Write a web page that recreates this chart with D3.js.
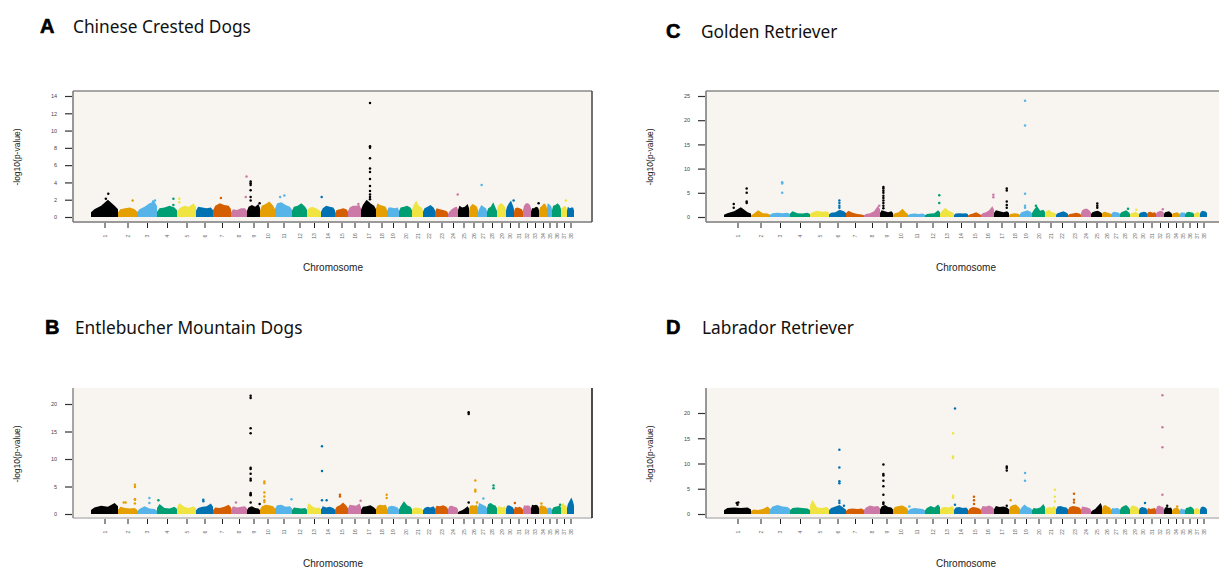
<!DOCTYPE html>
<html>
<head>
<meta charset="utf-8">
<script src="https://cdn.jsdelivr.net/npm/d3@7"></script>
<style>
body { margin: 0; background: #fff; }
</style>
</head>
<body>
<svg id="fig" width="1219" height="570"></svg>
<script>
// chromosomes and their relative widths on the x axis
var chromosomes = d3.range(1, 39);
var chromSpan = [27,19,20,20,19,17,18,16,13,15,17,15,14,14,13,13,15,11,12,13,11,12,13,10,11,9,9,10,9,8,9,8,8,8,5,9,6,7];
var palette = ["#000000","#E69F00","#56B4E9","#009E73","#F0E442","#0072B2","#D55E00","#CC79A7"];

// top of the dense SNP cloud per chromosome (-log10 p), 4 steps each
var bandA = [[0.9,1.3,2.0,1.3],[0.9,1.0,1.1,0.9],[0.9,1.2,1.6,1.8],[1.0,1.1,1.3,1.1],[1.0,1.3,1.2,1.6],
  [1.2,1.1,1.0,1.1],[1.3,1.6,1.4,1.3],[0.9,0.8,1.0,1.0],[1.2,1.4,1.2,1.5],[1.3,1.5,1.8,1.3],
  [1.6,1.7,1.4,1.2],[1.2,1.3,1.6,1.2],[1.0,1.2,1.0,0.8],[1.0,1.3,1.2,1.1],[0.8,0.9,1.0,0.9],
  [1.1,1.3,1.3,1.4],[1.4,2.0,1.6,1.3],[1.6,1.4,1.3,1.2],[1.1,1.1,1.0,1.1],[1.1,1.2,1.3,1.1],
  [1.3,1.9,1.3,1.1],[1.0,1.2,1.4,1.1],[1.0,0.9,0.8,0.7],[0.6,0.9,1.1,1.2],[1.3,1.1,1.2,1.5],
  [1.2,1.5,1.4,1.2],[0.9,1.4,1.2,1.0],[1.0,1.2,1.7,1.0],[1.3,1.6,1.5,1.2],[1.2,1.6,1.9,1.3],
  [1.0,1.1,1.0,0.9],[1.3,1.6,1.6,1.4],[1.0,1.0,1.2,1.1],[1.1,1.3,1.6,1.4],[1.6,1.5,1.4,1.2],
  [1.3,1.4,1.6,1.3],[1.0,1.2,1.3,1.1],[1.2,1.0,1.1,1.1]];
var bandB = [[1.2,1.5,1.3,2.0],[1.3,1.1,1.0,1.1],[0.9,1.4,1.0,0.9],[1.8,1.1,1.0,1.3],[2.0,1.3,1.1,1.4],
  [1.1,1.3,1.4,1.9],[1.2,1.1,1.3,1.7],[1.4,1.2,1.3,1.4],[1.2,1.4,1.1,1.0],[1.4,1.7,1.6,1.4],
  [1.6,1.7,1.3,1.4],[1.2,1.1,1.0,1.1],[2.0,1.4,1.1,1.2],[1.4,1.2,1.3,1.1],[1.3,1.6,2.1,1.5],
  [1.7,1.6,1.5,1.9],[1.3,1.4,1.6,1.2],[1.5,1.7,1.6,1.7],[1.3,1.5,1.4,1.2],[1.4,2.3,1.6,1.3],
  [1.1,1.2,1.1,1.0],[1.1,1.3,1.2,1.4],[1.5,1.4,1.6,1.3],[1.4,1.5,1.3,1.2],[0.5,0.7,1.0,1.4],
  [1.5,1.6,1.5,1.7],[2.0,1.8,1.6,1.4],[1.8,2.0,1.7,1.5],[1.4,1.3,1.2,1.4],[1.5,1.6,1.4,1.2],
  [1.3,1.2,1.3,1.1],[1.6,1.5,1.6,1.4],[1.7,1.6,1.7,1.5],[1.5,1.6,1.4,1.3],[1.2,1.1,1.2,1.0],
  [1.2,1.3,1.4,1.6],[1.8,2.0,1.6,1.5],[1.8,2.4,3.0,2.2]];
var bandC = [[0.8,1.2,2.0,1.0],[0.6,1.4,0.8,0.7],[0.8,0.9,0.8,0.9],[1.2,0.8,0.7,0.9],[1.0,1.3,1.1,1.2],
  [0.9,1.0,1.5,1.2],[1.3,0.9,0.6,0.5],[0.6,0.8,1.2,2.3],[1.4,1.2,1.0,1.2],[0.8,1.0,1.7,0.9],
  [0.6,0.7,0.6,0.7],[0.6,0.7,0.8,1.4],[1.2,1.9,1.3,1.0],[0.7,0.8,0.7,0.8],[0.5,0.7,1.0,0.6],
  [0.8,1.0,1.4,2.2],[1.4,1.2,1.0,1.2],[0.6,0.7,0.8,0.6],[1.0,1.2,1.4,1.1],[1.4,2.3,1.3,1.5],
  [1.2,1.5,1.0,0.9],[0.8,1.0,1.2,0.9],[0.6,0.7,0.9,0.7],[1.4,1.7,1.7,1.3],[1.0,1.2,1.3,1.0],
  [1.0,1.1,0.9,0.8],[0.9,1.1,1.0,0.9],[1.0,1.2,1.4,1.0],[0.8,0.9,1.1,0.8],[0.9,1.0,1.1,1.0],
  [1.0,1.1,0.9,1.0],[1.0,1.2,1.3,1.1],[1.0,1.1,1.2,0.9],[0.8,0.9,1.0,0.8],[0.9,1.0,0.9,1.0],
  [0.9,1.1,1.0,0.9],[0.8,0.9,1.1,0.9],[1.1,1.3,1.2,1.1]];
var bandD = [[1.2,1.3,1.2,1.3],[0.9,0.8,1.0,1.5],[1.5,1.8,1.5,1.4],[1.2,1.3,1.2,1.1],[2.8,1.3,1.2,1.4],
  [1.2,1.5,1.8,1.2],[1.0,1.1,1.0,1.1],[1.3,1.7,1.5,1.6],[1.5,1.8,1.4,1.3],[1.4,1.6,1.7,1.3],
  [1.0,1.2,1.1,1.0],[1.2,1.6,1.3,1.9],[1.3,1.4,1.3,1.6],[1.3,1.4,1.2,1.3],[1.1,1.4,1.3,1.1],
  [1.6,1.5,1.7,1.4],[1.6,1.4,1.5,1.3],[1.5,1.8,1.9,1.4],[1.3,1.9,1.4,1.2],[1.2,1.1,1.3,2.0],
  [1.2,1.4,1.3,1.6],[1.5,1.6,1.4,1.3],[1.4,1.6,1.5,1.3],[1.5,1.4,1.3,1.1],[0.7,1.0,1.6,2.2],
  [1.6,1.8,1.5,1.3],[1.2,1.1,1.2,1.1],[1.3,1.6,1.8,1.3],[1.6,1.7,1.5,1.3],[1.2,1.4,1.3,1.2],
  [1.2,1.0,1.1,1.2],[1.5,1.7,1.5,1.4],[1.3,1.4,1.2,1.3],[1.0,1.2,1.3,1.0],[1.0,1.1,0.9,1.0],
  [1.2,1.3,1.5,1.2],[1.0,1.2,1.1,1.0],[1.3,1.5,1.4,1.2]];

// isolated SNPs above the cloud: [chromosome, relative position, -log10 p]
var peaksA = [[1,0.64,2.7],[1,0.55,2.1],[2,0.77,1.9],[3,0.8,1.8],[3,0.9,1.9],[4,0.82,2.1],[4,0.82,1.4],
  [5,0.12,2.1],[5,0.12,1.7],[7,0.44,2.2],[8,0.97,4.7],[8,0.92,2.3],
  [9,0.28,4.1],[9,0.28,3.9],[9,0.28,3.7],[9,0.28,3.1],[9,0.28,2.3],[9,0.28,1.9],[9,0.97,1.6],
  [11,0.3,2.3],[11,0.55,2.5],[14,0.05,2.3],[16,0.8,1.5],
  [17,0.6,13.2],[17,0.6,8.2],[17,0.6,8.0],[17,0.6,6.8],[17,0.6,5.6],[17,0.6,5.2],[17,0.6,4.4],
  [17,0.6,3.6],[17,0.6,3.0],[17,0.6,2.6],[17,0.6,2.3],[17,0.6,2.05],
  [24,0.97,2.6],[27,0.4,3.7],[30,0.95,1.9],[33,0.95,1.6],[37,0.8,1.9]];
var peaksB = [[2,0.3,2.1],[2,0.4,2.1],[2,0.89,5.3],[2,0.89,4.9],[2,0.89,2.7],[2,0.89,2.6],[2,0.89,1.9],
  [3,0.62,2.9],[3,0.62,2.0],[4,0.07,2.5],[6,0.43,2.6],[6,0.43,2.3],[8,0.31,2.1],
  [9,0.28,21.5],[9,0.28,21.1],[9,0.28,15.6],[9,0.28,14.7],[9,0.28,8.4],[9,0.28,8.2],[9,0.28,7.3],
  [9,0.28,6.4],[9,0.28,6.1],[9,0.28,3.8],[9,0.28,3.6],[9,0.28,3.4],[9,0.28,2.1],[9,0.97,1.8],
  [10,0.29,5.9],[10,0.29,5.6],[10,0.29,3.9],[10,0.29,3.2],[10,0.29,2.5],[10,0.29,2.2],
  [11,0.97,2.7],[14,0.07,12.3],[14,0.07,7.8],[14,0.07,2.5],[14,0.4,2.5],[15,0.38,3.5],[15,0.38,3.2],
  [16,0.97,2.4],[18,0.97,3.5],[18,0.97,2.9],[25,0.97,18.5],[25,0.97,18.2],[25,0.97,2.1],
  [26,0.7,6.1],[26,0.7,4.4],[26,0.7,4.1],[26,0.9,2.1],[27,0.6,2.8],[28,0.65,5.2],[28,0.65,4.7],
  [31,0.1,2.0],[34,0.3,1.9],[36,0.9,1.7]];
var peaksC = [[1,0.36,2.7],[1,0.36,1.9],[1,0.84,5.9],[1,0.84,5.0],[1,0.84,3.2],[1,0.84,2.9],
  [3,0.61,7.2],[3,0.61,6.9],[3,0.61,5.0],[6,0.61,3.4],[6,0.61,2.9],[6,0.61,2.3],[6,0.61,1.9],
  [8,0.95,2.3],[9,0.26,6.2],[9,0.26,5.9],[9,0.26,5.4],[9,0.26,5.0],[9,0.26,4.4],[9,0.26,3.9],
  [9,0.26,3.4],[9,0.26,2.9],[9,0.26,2.3],[9,0.26,1.8],[12,0.95,4.5],[12,0.95,2.9],
  [16,0.95,4.6],[16,0.95,4.1],[17,0.85,5.9],[17,0.85,5.5],[17,0.85,3.2],[17,0.85,2.5],[17,0.85,1.9],
  [19,0.42,24.0],[19,0.42,18.9],[19,0.42,4.8],[19,0.42,2.3],[19,0.42,1.9],[20,0.3,2.3],
  [25,0.57,2.8],[25,0.57,2.3],[25,0.57,1.9],[28,0.8,1.7],[29,0.7,1.5],[32,0.85,1.6]];
var peaksD = [[1,0.47,2.2],[1,0.53,2.3],[1,0.5,1.85],[6,0.61,12.7],[6,0.61,9.2],[6,0.61,6.5],[6,0.61,6.1],
  [6,0.61,2.6],[6,0.61,2.2],[6,0.88,1.65],[9,0.26,9.8],[9,0.26,7.9],[9,0.26,7.6],[9,0.26,6.6],
  [9,0.26,5.5],[9,0.26,3.8],[9,0.26,2.3],[9,0.26,2.0],[11,0.08,1.5],
  [13,0.93,16.0],[13,0.93,11.4],[13,0.93,11.1],[13,0.93,3.6],[13,0.93,3.4],[13,0.93,3.2],
  [14,0.07,20.9],[14,0.07,1.85],[15,0.46,3.4],[15,0.46,2.7],[15,0.46,2.0],
  [17,0.85,9.4],[17,0.85,9.1],[17,0.85,8.6],[17,0.85,1.65],[18,0.15,2.7],[19,0.42,8.1],[19,0.42,6.6],
  [21,0.9,4.8],[21,0.9,3.4],[21,0.9,2.5],[23,0.46,4.0],[23,0.46,2.8],[23,0.46,2.3],
  [30,0.75,2.2],[32,0.8,23.5],[32,0.8,17.2],[32,0.8,13.2],[32,0.8,3.8],[33,0.4,1.65],[34,0.65,1.5]];

// y tick labels
var ticksA = [0,2,4,6,8,10,12,14];
var ticksB = [0,5,10,15,20];
var ticksC = [0,5,10,15,20,25];
var ticksD = [0,5,10,15,20];

var panels = [
  {letter:"A", title:"Chinese Crested Dogs", band:bandA, peaks:peaksA, ticks:ticksA,
   left:73, right:592, top:91, bottom:222, zeroY:217, topTickY:96, dataX:91,
   letterX:40, titleX:73, baseY:33, labelY:271, edges:{top:"#8a8a8a", left:"#777", bottom:"#9a9a9a", right:"#444"}},
  {letter:"B", title:"Entlebucher Mountain Dogs", band:bandB, peaks:peaksB, ticks:ticksB,
   left:73, right:592, top:388, bottom:518, zeroY:514, topTickY:404, dataX:91,
   letterX:45, titleX:75, baseY:334, labelY:567, edges:{left:"#8a8a8a", bottom:"#c9c9c9", right:"#111"}},
  {letter:"C", title:"Golden Retriever", band:bandC, peaks:peaksC, ticks:ticksC,
   left:706, right:1226, top:91, bottom:222, zeroY:217, topTickY:96, dataX:724,
   letterX:666, titleX:701, baseY:38, labelY:271, edges:{top:"#8a8a8a", left:"#777", bottom:"#9a9a9a"}},
  {letter:"D", title:"Labrador Retriever", band:bandD, peaks:peaksD, ticks:ticksD,
   left:706, right:1226, top:388, bottom:518, zeroY:514, topTickY:413, dataX:724,
   letterX:666, titleX:702, baseY:334, labelY:567, edges:{left:"#777", bottom:"#c9c9c9"}}
];

var svg = d3.select("#fig");
var cum = [0];
chromSpan.forEach(function(s, i) { cum.push(cum[i] + s); });
var total = cum[cum.length - 1];

panels.forEach(drawPanel);

function drawPanel(p) {
  var g = svg.append("g");
  var x = d3.scaleLinear().domain([0, total]).range([p.dataX, p.dataX + 483]);
  var yTop = p.ticks[p.ticks.length - 1];
  var y = d3.scaleLinear().domain([0, yTop]).range([p.zeroY, p.topTickY]);

  // heading
  g.append("text")
    .attr("x", p.letterX).attr("y", p.baseY)
    .attr("font-family", "Liberation Sans, Arial, sans-serif")
    .attr("font-weight", "bold").attr("font-size", "20px")
    .attr("stroke", "#000").attr("stroke-width", 0.6)
    .text(p.letter);
  g.append("text")
    .attr("x", p.titleX).attr("y", p.baseY)
    .attr("font-family", "Noto Sans, sans-serif")
    .attr("font-size", "17.3px").attr("fill", "#111")
    .text(p.title);

  // plot background
  g.append("rect")
    .attr("x", p.left).attr("y", p.top)
    .attr("width", p.right - p.left).attr("height", p.bottom - p.top)
    .attr("fill", "#f8f5f0");

  // dense cloud per chromosome
  var area = d3.area()
    .x(function(d) { return x(d[0]); })
    .y0(y(0))
    .y1(function(d) { return y(d[1]); })
    .curve(d3.curveLinear);
  chromosomes.forEach(function(c, i) {
    var h = p.band[i];
    var pts = [[cum[i], h[0] * 0.6]];
    h.forEach(function(v, j) { pts.push([cum[i] + chromSpan[i] * (j + 0.5) / h.length, v]); });
    pts.push([cum[i + 1], h[h.length - 1] * 0.7]);
    g.append("path")
      .attr("d", area(pts))
      .attr("fill", palette[i % 8]);
  });

  // single SNPs
  g.selectAll("circle.snp")
    .data(p.peaks)
    .enter().append("circle")
      .attr("class", "snp")
      .attr("cx", function(d) { return x(cum[d[0] - 1] + chromSpan[d[0] - 1] * d[1]); })
      .attr("cy", function(d) { return y(d[2]); })
      .attr("r", 1.25)
      .attr("fill", function(d) { return palette[(d[0] - 1) % 8]; });

  // frame
  var e = p.edges;
  if (e.top) g.append("line").attr("x1", p.left).attr("x2", p.right).attr("y1", p.top).attr("y2", p.top)
    .attr("stroke", e.top).attr("stroke-width", 1.5);
  if (e.bottom) g.append("line").attr("x1", p.left).attr("x2", p.right).attr("y1", p.bottom).attr("y2", p.bottom)
    .attr("stroke", e.bottom).attr("stroke-width", 1.8);
  if (e.left) g.append("line").attr("x1", p.left).attr("x2", p.left).attr("y1", p.top).attr("y2", p.bottom)
    .attr("stroke", e.left).attr("stroke-width", 1.5);
  if (e.right) g.append("line").attr("x1", p.right).attr("x2", p.right).attr("y1", p.top).attr("y2", p.bottom)
    .attr("stroke", e.right).attr("stroke-width", 1.5);

  // y axis
  var yAxis = g.append("g")
    .attr("transform", "translate(" + (p.left - 1) + ",0)")
    .call(d3.axisLeft(y).tickValues(p.ticks).tickSize(7).tickPadding(8));
  yAxis.select(".domain").remove();
  yAxis.selectAll("line").attr("stroke", "#333").attr("stroke-width", 1.2);
  yAxis.selectAll("text").attr("font-size", "5.5px").attr("fill", "#444")
    .attr("font-family", "Liberation Sans, Arial, sans-serif");

  // x axis, one tick per chromosome
  var centers = chromosomes.map(function(c, i) { return cum[i] + chromSpan[i] / 2; });
  var xAxis = g.append("g")
    .attr("transform", "translate(0," + (p.bottom + 1) + ")")
    .call(d3.axisBottom(x).tickValues(centers).tickSize(5)
      .tickFormat(function(d, i) { return chromosomes[i]; }));
  xAxis.select(".domain").remove();
  xAxis.selectAll("line").attr("stroke", "#222").attr("stroke-width", 1);
  xAxis.selectAll("text")
    .attr("x", 0).attr("y", 0).attr("dy", "0.32em")
    .attr("transform", "translate(0,13) rotate(-90)")
    .style("text-anchor", "middle")
    .attr("font-size", "5px").attr("fill", "#666")
    .attr("font-family", "Liberation Sans, Arial, sans-serif");

  // axis titles
  g.append("text")
    .attr("x", p.dataX + 242).attr("y", p.labelY)
    .attr("text-anchor", "middle")
    .attr("font-family", "Liberation Sans, Arial, sans-serif")
    .attr("font-size", "10px").attr("fill", "#222")
    .text("Chromosome");
  g.append("text")
    .attr("transform", "translate(" + (p.left - 53) + "," + (p.zeroY - 60) + ") rotate(-90)")
    .attr("text-anchor", "middle")
    .attr("font-family", "Liberation Sans, Arial, sans-serif")
    .attr("font-size", "8.5px").attr("fill", "#222")
    .text("-log10(p-value)");
}
</script>
</body>
</html>
